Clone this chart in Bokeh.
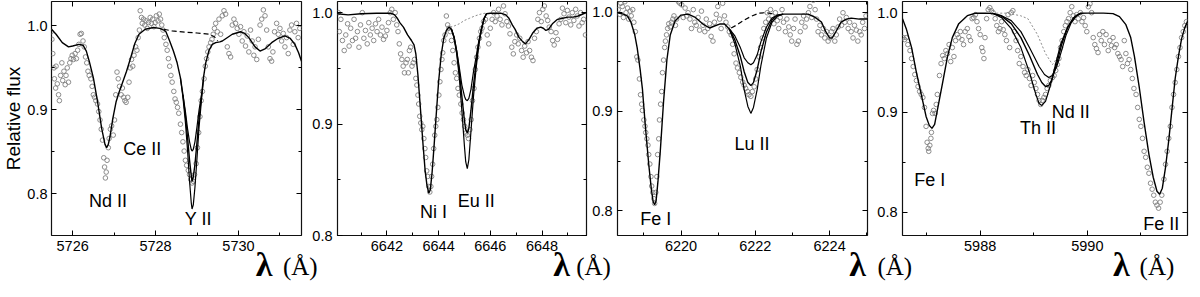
from bokeh.plotting import figure
from bokeh.layouts import row, column
from bokeh.models import (Range1d, LinearAxis, SingleIntervalTicker, PrintfTickFormatter,
                          CustomJSTickFormatter, ColumnDataSource, Div)
from bokeh.embed import file_html
from bokeh.resources import INLINE
from bokeh.core.properties import value

# ---------------- data: panel 1 (Y II 5728.9) ----------------
obs1 = [(5725.48,0.993),(5725.50,0.984),(5725.52,0.967),(5725.55,0.950),(5725.56,0.937),(5725.59,0.926),(5725.60,0.952),(5725.63,0.931),(5725.66,0.918),(5725.68,0.911),
(5725.71,0.941),(5725.74,0.956),(5725.76,0.935),(5725.79,0.946),(5725.82,0.930),(5725.84,0.941),(5725.87,0.950),(5725.90,0.933),(5725.93,0.956),(5725.96,0.961),
(5725.99,0.965),(5726.02,0.960),(5726.06,0.967),(5726.09,0.961),(5726.12,0.971),(5726.15,0.978),(5726.18,0.990),(5726.21,0.991),(5726.25,0.982),(5726.28,0.975),
(5726.31,0.963),(5726.34,0.956),(5726.37,0.946),(5726.40,0.941),(5726.44,0.937),(5726.47,0.928),(5726.50,0.918),(5726.53,0.915),(5726.56,0.911),(5726.60,0.907),
(5726.63,0.898),(5726.66,0.888),(5726.69,0.877),(5726.72,0.864),(5726.75,0.843),(5726.77,0.832),(5726.79,0.819),(5726.81,0.826),(5726.83,0.840),(5726.86,0.855),
(5726.88,0.866),(5726.91,0.877),(5726.94,0.881),(5726.98,0.870),(5727.01,0.888),(5727.04,0.918),(5727.07,0.945),(5727.10,0.937),(5727.13,0.928),(5727.17,0.918),
(5727.20,0.926),(5727.23,0.915),(5727.26,0.911),(5727.29,0.909),(5727.33,0.915),(5727.36,0.933),(5727.39,0.950),(5727.42,0.960),(5727.45,0.952),(5727.48,0.965),
(5727.52,0.975),(5727.55,0.971),(5727.58,0.986),(5727.61,0.995),
(5727.63,1.018),(5727.66,1.010),(5727.68,1.003),(5727.71,1.008),(5727.74,1.001),(5727.77,1.006),(5727.80,0.997),(5727.83,1.004),(5727.87,1.010),(5727.90,1.003),
(5727.93,1.008),(5727.96,0.999),(5727.99,1.004),(5728.02,1.012),(5728.06,1.006),(5728.09,1.014),(5728.12,1.008),(5728.15,1.001),(5728.18,0.995),
(5728.21,0.986),(5728.25,0.978),(5728.28,0.971),(5728.31,0.961),(5728.34,0.952),(5728.37,0.941),(5728.40,0.933),(5728.44,0.922),(5728.47,0.913),(5728.50,0.909),
(5728.53,0.903),(5728.56,0.896),(5728.60,0.883),(5728.63,0.873),(5728.66,0.862),(5728.69,0.851),(5728.72,0.840),(5728.75,0.834),(5728.79,0.828),(5728.82,0.823),
(5728.85,0.817),(5728.88,0.813),(5728.91,0.815),(5728.94,0.823),(5728.98,0.836),(5729.01,0.855),(5729.04,0.873),(5729.07,0.892),(5729.10,0.911),(5729.13,0.922),
(5729.17,0.937),(5729.20,0.952),(5729.23,0.961),(5729.26,0.969),(5729.29,0.975),(5729.33,0.980),(5729.36,0.984),(5729.39,0.990),(5729.42,0.997),(5729.45,1.003),
(5729.49,0.993),
(5729.53,1.008),(5729.57,0.990),(5729.61,1.012),(5729.65,1.018),(5729.69,1.014),(5729.73,0.975),(5729.77,0.967),(5729.81,0.963),(5729.85,1.001),(5729.89,1.008),
(5729.93,1.003),(5729.97,0.997),(5730.01,0.990),(5730.05,0.999),(5730.09,0.982),(5730.13,0.993),(5730.17,0.976),(5730.21,0.988),(5730.25,0.969),(5730.29,0.995),
(5730.33,0.982),(5730.37,0.965),(5730.40,0.975),(5730.44,0.960),(5730.48,0.984),(5730.52,1.001),(5730.56,1.008),(5730.60,1.019),(5730.64,1.012),(5730.68,0.995),
(5730.72,0.975),(5730.76,0.961),(5730.80,0.958),(5730.83,0.969),(5730.87,0.993),(5730.92,1.003),(5730.96,0.990),(5731.00,0.997),(5731.04,0.982),(5731.08,0.991),
(5731.12,0.975),(5731.16,0.986),(5731.20,0.967),(5731.24,0.995),(5731.28,1.001),(5731.32,0.978),(5731.36,0.993),(5731.40,1.003),(5731.44,0.986),(5731.48,0.997)]

model1 = [(5725.49,0.996),(5725.6,0.990),(5725.75,0.980),(5725.9,0.975),(5726.0,0.976),(5726.15,0.978),(5726.25,0.977),(5726.33,0.970),(5726.4,0.958),(5726.5,0.938),
(5726.6,0.910),(5726.7,0.878),(5726.78,0.859),(5726.82,0.855),(5726.86,0.859),(5726.9,0.868),(5726.97,0.890),(5727.05,0.910),(5727.12,0.921),(5727.2,0.932),
(5727.3,0.946),(5727.4,0.962),(5727.5,0.979),(5727.6,0.990),(5727.75,0.996),(5727.95,0.998),(5728.1,0.997),(5728.2,0.995),
(5728.25,0.993),(5728.34,0.982),(5728.43,0.970),(5728.52,0.956),(5728.6,0.938),(5728.66,0.918),(5728.72,0.893),(5728.77,0.868),(5728.82,0.840),(5728.86,0.822),
(5728.88,0.815),(5728.91,0.820),(5728.95,0.835),(5729.0,0.862),(5729.05,0.890),(5729.11,0.918),(5729.16,0.940),(5729.21,0.956),(5729.29,0.971),(5729.37,0.978),
(5729.45,0.980),(5729.55,0.981),(5729.61,0.982),(5729.7,0.985),(5729.85,0.990),(5730.05,0.993),(5730.15,0.991),(5730.25,0.986),(5730.4,0.975),(5730.52,0.970),
(5730.65,0.973),(5730.8,0.980),(5730.95,0.985),(5731.12,0.988),(5731.25,0.985),(5731.36,0.978),(5731.45,0.968),(5731.52,0.958)]
model1_weak = [(5728.66,0.918),(5728.72,0.898),(5728.77,0.878),(5728.82,0.862),(5728.86,0.853),(5728.88,0.851),(5728.91,0.853),(5728.95,0.862),(5729.0,0.880),(5729.05,0.900),(5729.11,0.918)]
model1_strong = [(5728.6,0.938),(5728.66,0.915),(5728.72,0.885),(5728.77,0.853),(5728.82,0.815),(5728.86,0.790),(5728.88,0.782),(5728.91,0.787),(5728.95,0.808),(5729.0,0.843),(5729.05,0.880),(5729.11,0.913),(5729.16,0.938)]
nolin1 = [(5728.2,0.996),(5728.4,0.994),(5728.7,0.9925),(5729.0,0.9915),(5729.3,0.990),(5729.42,0.987),(5729.5,0.982)]

# ---------------- data: panel 2 (Eu II 6645.1) ----------------
obs2 = [(6640.12,1.000),(6640.16,0.983),(6640.22,0.994),(6640.28,0.975),(6640.35,0.966),(6640.41,0.980),(6640.48,0.990),(6640.54,0.970),(6640.60,0.986),(6640.67,0.975),
(6640.73,0.994),(6640.79,0.977),(6640.86,0.983),(6640.92,0.969),(6640.98,0.989),(6641.05,1.000),(6641.11,0.977),(6641.17,0.984),(6641.24,0.972),(6641.30,0.991),
(6641.36,0.980),(6641.43,0.986),(6641.49,0.975),(6641.56,0.990),(6641.62,0.983),(6641.68,0.994),(6641.75,0.980),(6641.81,0.987),(6641.87,0.976),(6641.94,0.979),
(6642.00,0.984),(6642.06,0.991),(6642.13,1.000),(6642.19,1.003),(6642.25,0.994),(6642.32,1.000),(6642.38,0.989),(6642.43,0.983),(6642.48,0.972),(6642.53,0.963),
(6642.58,0.958),(6642.63,0.952),(6642.68,0.946),(6642.74,0.955),(6642.79,0.958),(6642.83,0.946),(6642.87,0.966),(6642.92,0.969),(6642.97,0.952),(6643.02,0.955),
(6643.07,0.958),(6643.12,0.941),(6643.16,0.935),(6643.20,0.926),(6643.23,0.918),(6643.27,0.907),(6643.31,0.901),(6643.35,0.895),(6643.39,0.898),(6643.43,0.887),
(6643.47,0.878),(6643.50,0.870),(6643.54,0.858),(6643.58,0.853),(6643.62,0.844),(6643.66,0.839),(6643.70,0.844),(6643.73,0.853),(6643.77,0.864),(6643.81,0.878),
(6643.85,0.890),(6643.89,0.898),(6643.93,0.904),(6643.97,0.915),(6644.01,0.926),(6644.05,0.938),(6644.09,0.949),(6644.13,0.958),(6644.16,0.964),(6644.20,0.975),
(6644.25,0.980),(6644.30,0.997),(6644.35,0.989),(6644.40,0.986),(6644.45,0.983),(6644.50,0.975),(6644.55,0.966),(6644.60,0.955),(6644.65,0.946),(6644.70,0.941),
(6644.75,0.932),(6644.80,0.926),(6644.86,0.918),(6644.91,0.910),(6644.96,0.904),(6645.01,0.898),(6645.06,0.892),(6645.11,0.890),(6645.16,0.887),(6645.21,0.895),
(6645.26,0.904),(6645.31,0.921),(6645.37,0.932),(6645.42,0.949),(6645.47,0.960),(6645.52,0.969),(6645.58,0.977),(6645.63,0.983),(6645.68,0.986),(6645.74,0.992),
(6645.81,0.994),(6645.88,0.980),(6645.94,0.972),(6646.00,0.986),(6646.07,0.994),(6646.13,1.000),(6646.19,0.992),(6646.26,0.997),(6646.32,1.003),(6646.38,0.994),
(6646.45,0.989),(6646.51,1.006),(6646.57,0.999),(6646.64,0.992),(6646.70,0.988),(6646.76,0.981),(6646.83,0.969),(6646.89,0.963),(6646.95,0.974),(6647.02,0.980),
(6647.08,0.972),(6647.14,0.977),(6647.21,0.966),(6647.27,0.960),(6647.33,0.970),(6647.40,0.964),(6647.46,0.974),(6647.52,0.966),(6647.59,0.960),(6647.65,0.957),
(6647.71,0.977),(6647.78,0.983),(6647.84,0.994),(6647.90,1.000),(6647.97,0.992),(6648.03,1.003),(6648.09,1.006),(6648.16,0.997),(6648.22,0.993),(6648.28,0.987),
(6648.35,0.983),(6648.41,0.975),(6648.47,0.971),(6648.54,0.982),(6648.60,0.976),(6648.66,0.990),(6648.73,0.994),(6648.79,1.004),(6648.85,0.999),(6648.92,0.991),
(6648.98,1.002),(6649.04,0.996),(6649.11,0.989),(6649.17,1.000),(6649.23,0.993),(6649.30,1.003),(6649.36,0.997),(6649.43,0.988),(6649.49,1.000),(6649.55,0.991),
(6649.61,0.994),(6649.68,0.980)]

model2 = [(6640.09,0.999),(6640.5,0.998),(6641.0,0.999),(6641.6,0.9995),(6642.15,0.9995),(6642.3,0.998),(6642.4,0.995),(6642.5,0.991),(6642.64,0.987),(6642.8,0.980),
(6642.95,0.975),(6643.05,0.971),(6643.12,0.963),(6643.2,0.944),(6643.3,0.913),(6643.4,0.881),(6643.48,0.858),(6643.55,0.845),(6643.62,0.838),(6643.68,0.841),
(6643.75,0.857),(6643.83,0.882),(6643.91,0.909),(6644.0,0.938),(6644.1,0.962),(6644.2,0.977),(6644.3,0.984),(6644.4,0.987),(6644.5,0.985),
(6644.6,0.978),(6644.7,0.965),(6644.8,0.947),(6644.9,0.925),(6645.0,0.903),(6645.05,0.895),(6645.11,0.892),(6645.17,0.896),(6645.25,0.912),(6645.35,0.935),
(6645.45,0.955),(6645.55,0.972),(6645.65,0.984),(6645.75,0.994),(6645.85,0.999),(6646.0,0.9995),(6646.4,0.9995),(6646.6,0.998),(6646.72,0.995),(6646.85,0.989),
(6646.96,0.985),(6647.1,0.978),(6647.25,0.974),(6647.36,0.972),(6647.5,0.976),(6647.65,0.982),(6647.8,0.986),(6647.95,0.987),(6648.05,0.986),(6648.15,0.984),
(6648.25,0.985),(6648.4,0.990),(6648.6,0.994),(6648.8,0.995),(6649.0,0.996),(6649.2,0.996),(6649.4,0.997),(6649.6,0.999),(6649.72,1.0)]
model2_weak = [(6644.5,0.985),(6644.6,0.978),(6644.7,0.966),(6644.8,0.951),(6644.9,0.935),(6645.0,0.925),(6645.05,0.922),(6645.11,0.921),(6645.17,0.923),(6645.25,0.931),
(6645.35,0.947),(6645.45,0.960),(6645.55,0.974),(6645.65,0.985),(6645.75,0.994),(6645.85,0.999)]
model2_strong = [(6644.5,0.985),(6644.6,0.977),(6644.7,0.963),(6644.8,0.942),(6644.9,0.912),(6645.0,0.880),(6645.05,0.866),(6645.11,0.860),(6645.17,0.868),(6645.25,0.893),
(6645.35,0.925),(6645.45,0.950),(6645.55,0.970),(6645.65,0.984),(6645.75,0.994),(6645.85,0.999)]
nolin2 = [(6644.45,0.987),(6644.6,0.988),(6644.8,0.990),(6645.0,0.993),(6645.2,0.995),(6645.4,0.997),(6645.6,0.9985),(6645.8,0.9995)]

# ---------------- data: panel 3 (Lu II 6221.9) ----------------
obs3 = [(6218.31,1.0025),(6218.35,0.9978),(6218.38,1.0089),(6218.42,1.0057),(6218.45,0.9946),(6218.49,1.0105),(6218.52,0.9994),(6218.56,1.0041),(6218.59,0.9930),(6218.63,1.0010),
(6218.66,0.9962),(6218.70,1.0025),(6218.73,0.9898),(6218.77,0.9803),(6218.81,0.9549),(6218.84,0.9517),(6218.88,0.9327),(6218.91,0.9168),(6218.94,0.9073),(6218.96,0.9010),
(6219.00,0.8914),(6219.03,0.8851),(6219.05,0.8787),(6219.08,0.8724),(6219.11,0.8660),(6219.13,0.8565),(6219.16,0.8470),(6219.19,0.8343),(6219.21,0.8248),(6219.24,0.8184),
(6219.27,0.8121),(6219.29,0.8073),(6219.32,0.8184),(6219.35,0.8343),(6219.37,0.8565),(6219.40,0.8724),(6219.42,0.8914),(6219.45,0.9073),(6219.48,0.9200),(6219.50,0.9390),
(6219.53,0.9517),(6219.56,0.9644),(6219.58,0.9708),(6219.61,0.9771),(6219.64,0.9835),(6219.67,0.9883),(6219.71,0.9851),(6219.74,0.9898),(6219.78,0.9930),(6219.81,0.9962),
(6219.85,0.9867),(6219.88,0.9930),(6219.93,1.0105),(6219.97,1.0089),(6220.02,1.0073),(6220.06,0.9946),(6220.11,1.0041),(6220.15,0.9962),(6220.19,0.9994),(6220.24,0.9930),
(6220.28,0.9835),(6220.33,1.0025),(6220.37,0.9898),(6220.41,0.9867),(6220.46,0.9946),(6220.50,0.9819),(6220.55,1.0010),(6220.59,0.9867),(6220.64,0.9803),(6220.68,0.9930),
(6220.72,0.9835),(6220.77,0.9883),(6220.81,0.9756),(6220.86,0.9708),(6220.90,0.9898),(6220.95,0.9978),(6220.99,1.0057),(6221.04,0.9930),(6221.08,0.9835),(6221.12,1.0089),
(6221.17,0.9962),(6221.21,0.9898),(6221.26,0.9851),(6221.30,0.9803),(6221.35,0.9771),(6221.39,0.9676),(6221.43,0.9580),(6221.48,0.9486),(6221.52,0.9438),(6221.57,0.9390),
(6221.61,0.9343),(6221.66,0.9295),(6221.70,0.9263),(6221.74,0.9232),(6221.79,0.9200),(6221.83,0.9168),(6221.88,0.9152),(6221.92,0.9200),(6221.97,0.9248),(6222.01,0.9327),
(6222.05,0.9422),(6222.10,0.9549),(6222.14,0.9644),(6222.19,0.9740),(6222.23,0.9835),(6222.28,0.9898),(6222.32,0.9994),(6222.36,0.9930),(6222.41,1.0025),(6222.45,0.9962),
(6222.50,0.9883),(6222.54,0.9994),(6222.59,0.9914),(6222.63,0.9835),(6222.67,0.9946),(6222.72,1.0025),(6222.76,0.9898),(6222.81,0.9803),(6222.85,0.9930),(6222.90,0.9851),
(6222.94,0.9771),(6222.98,0.9708),(6223.03,0.9835),(6223.07,0.9930),(6223.12,0.9676),(6223.16,0.9708),(6223.21,0.9803),(6223.25,0.9898),(6223.30,0.9962),(6223.34,0.9851),
(6223.38,0.9930),(6223.43,0.9994),(6223.47,1.0057),(6223.52,0.9946),(6223.56,1.0120),(6223.61,1.0025),(6223.65,0.9930),(6223.69,0.9803),(6223.74,0.9867),(6223.78,0.9771),
(6223.83,0.9835),(6223.87,0.9740),(6223.92,0.9803),(6223.96,0.9708),(6224.01,0.9740),(6224.05,0.9803),(6224.09,0.9835),(6224.14,0.9708),(6224.18,0.9771),(6224.23,0.9851),
(6224.27,0.9930),(6224.32,0.9867),(6224.36,0.9994),(6224.41,0.9898),(6224.45,0.9946),(6224.50,0.9835),(6224.54,0.9898),(6224.58,0.9803),(6224.63,0.9740),(6224.67,0.9867),
(6224.72,0.9819),(6224.76,0.9708),(6224.81,0.9803),(6224.85,0.9771),(6224.89,0.9898),(6224.94,0.9835),(6224.98,0.9962)]

model3 = [(6218.29,0.9994),(6218.45,0.998),(6218.56,0.996),(6218.65,0.990),(6218.75,0.978),(6218.82,0.964),(6218.9,0.942),(6218.96,0.923),(6219.04,0.885),(6219.13,0.847),
(6219.2,0.822),(6219.25,0.809),(6219.29,0.806),(6219.33,0.810),(6219.38,0.830),(6219.44,0.859),(6219.53,0.910),(6219.62,0.952),(6219.71,0.977),(6219.84,0.991),
(6220.0,0.997),(6220.19,0.998),(6220.37,0.995),(6220.59,0.988),(6220.77,0.984),(6220.9,0.986),(6221.04,0.988),(6221.17,0.988),(6221.3,0.983),
(6221.45,0.972),(6221.6,0.955),(6221.7,0.940),(6221.8,0.929),(6221.88,0.926),(6221.95,0.929),(6222.05,0.942),(6222.15,0.960),(6222.3,0.980),(6222.45,0.992),
(6222.6,0.997),(6222.75,0.998),(6222.9,0.998),(6223.2,0.998),(6223.42,0.998),(6223.6,0.995),(6223.78,0.990),(6223.9,0.980),(6224.0,0.974),(6224.07,0.974),
(6224.15,0.979),(6224.31,0.990),(6224.45,0.993),(6224.58,0.994),(6224.8,0.993),(6225.02,0.993)]
model3_weak = [(6221.3,0.983),(6221.45,0.976),(6221.6,0.964),(6221.7,0.954),(6221.8,0.949),(6221.88,0.947),(6221.95,0.949),(6222.05,0.957),(6222.15,0.970),(6222.3,0.985),
(6222.45,0.994),(6222.6,0.997),(6222.75,0.998)]
model3_strong = [(6221.3,0.983),(6221.45,0.968),(6221.6,0.945),(6221.7,0.922),(6221.8,0.905),(6221.88,0.898),(6221.95,0.904),(6222.05,0.922),(6222.15,0.946),(6222.3,0.974),
(6222.45,0.990),(6222.6,0.996),(6222.75,0.998)]
nolin3 = [(6221.35,0.984),(6221.5,0.987),(6221.7,0.992),(6221.9,0.996),(6222.1,0.999),(6222.3,0.9995),(6222.5,0.998)]

# ---------------- data: panel 4 (Th II 5989.0) ----------------
obs4 = [(5986.56,0.975),(5986.59,0.973),(5986.62,0.975),(5986.65,0.968),(5986.69,0.962),(5986.72,0.954),(5986.75,0.946),(5986.78,0.938),(5986.81,0.932),(5986.84,0.926),
(5986.87,0.921),(5986.90,0.918),(5986.93,0.915),(5986.96,0.905),(5986.99,0.886),(5987.01,0.870),(5987.03,0.864),(5987.04,0.861),(5987.06,0.867),(5987.08,0.874),
(5987.09,0.880),(5987.11,0.899),(5987.13,0.902),(5987.16,0.899),(5987.18,0.908),(5987.20,0.918),(5987.24,0.937),(5987.27,0.949),(5987.30,0.957),(5987.33,0.954),
(5987.36,0.962),(5987.39,0.959),(5987.42,0.968),(5987.45,0.951),(5987.48,0.965),(5987.51,0.956),(5987.54,0.972),(5987.57,0.978),(5987.60,0.975),(5987.63,0.981),
(5987.66,0.973),(5987.69,0.968),(5987.72,0.981),(5987.76,0.984),(5987.79,0.976),(5987.82,0.972),(5987.85,0.994),(5987.88,0.995),(5987.91,0.998),(5987.94,0.991),
(5987.97,0.984),(5988.00,0.978),(5988.03,0.965),(5988.05,0.961),(5988.07,0.954),(5988.09,0.975),(5988.12,0.994),(5988.15,1.003),(5988.18,1.005),(5988.21,1.002),
(5988.24,1.000),(5988.28,0.994),(5988.31,0.987),(5988.34,0.981),(5988.37,0.984),(5988.40,0.991),(5988.43,0.983),(5988.46,0.978),(5988.49,0.972),(5988.52,0.998),
(5988.55,0.965),(5988.58,1.000),(5988.61,1.002),(5988.64,0.981),(5988.67,0.972),(5988.70,0.962),(5988.73,0.949),(5988.76,0.956),(5988.80,0.946),(5988.83,0.940),
(5988.86,0.937),(5988.89,0.943),(5988.92,0.934),(5988.95,0.927),(5988.98,0.937),(5989.01,0.930),(5989.04,0.924),(5989.07,0.918),(5989.10,0.912),(5989.13,0.908),
(5989.16,0.912),(5989.19,0.915),(5989.22,0.918),(5989.25,0.924),(5989.28,0.927),(5989.31,0.932),(5989.35,0.935),(5989.38,0.937),(5989.41,0.942),(5989.44,0.948),
(5989.47,0.954),(5989.50,0.965),(5989.53,0.972),(5989.56,0.981),(5989.59,0.987),(5989.62,0.991),(5989.65,0.994),(5989.68,1.000),(5989.71,1.006),(5989.74,0.997),
(5989.77,0.991),(5989.80,0.998),(5989.83,0.994),(5989.87,1.000),(5989.90,0.991),(5989.93,0.995),(5989.96,0.987),(5989.99,0.981),(5990.02,1.006),(5990.05,1.009),
(5990.08,1.000),(5990.11,0.975),(5990.14,0.968),(5990.17,0.964),(5990.20,0.960),(5990.23,0.978),(5990.26,0.972),(5990.29,0.981),(5990.32,0.968),(5990.35,0.978),
(5990.39,0.962),(5990.42,0.972),(5990.45,0.967),(5990.48,0.975),(5990.51,0.965),(5990.54,0.968),(5990.57,0.959),(5990.60,0.956),(5990.63,0.953),(5990.66,0.946),
(5990.69,0.972),(5990.72,0.959),(5990.75,0.949),(5990.78,0.953),(5990.81,0.943),(5990.84,0.934),(5990.87,0.924),(5990.91,0.918),(5990.94,0.905),(5990.97,0.893),
(5991.00,0.886),(5991.03,0.874),(5991.06,0.861),(5991.09,0.855),(5991.12,0.845),(5991.15,0.839),(5991.18,0.829),(5991.21,0.823),(5991.24,0.817),(5991.27,0.810),
(5991.30,0.807),(5991.33,0.804),(5991.36,0.810),(5991.39,0.817),(5991.43,0.833),(5991.46,0.848),(5991.49,0.861),(5991.52,0.874),(5991.55,0.886),(5991.58,0.905),
(5991.61,0.918),(5991.64,0.930),(5991.67,0.943),(5991.70,0.956),(5991.73,0.965),(5991.76,0.975),(5991.79,0.981),(5991.82,0.987),(5991.85,0.991)]

model4 = [(5986.55,0.994),(5986.62,0.984),(5986.72,0.965),(5986.81,0.940),(5986.90,0.918),(5986.99,0.896),(5987.05,0.887),(5987.10,0.884),(5987.15,0.888),(5987.20,0.902),
(5987.30,0.930),(5987.39,0.956),(5987.48,0.975),(5987.60,0.989),(5987.76,0.997),(5987.91,0.9994),(5988.1,0.9995),(5988.25,0.999),
(5988.4,0.9965),(5988.58,0.989),(5988.76,0.975),(5988.92,0.957),(5989.07,0.938),(5989.15,0.930),(5989.22,0.926),(5989.28,0.927),(5989.34,0.933),(5989.43,0.949),
(5989.52,0.968),(5989.64,0.986),(5989.77,0.996),(5989.87,0.9994),(5990.0,0.9995),(5990.3,0.9995),(5990.48,0.999),(5990.6,0.996),(5990.72,0.988),(5990.81,0.975),
(5990.88,0.956),(5990.97,0.925),(5991.06,0.890),(5991.15,0.858),(5991.23,0.835),(5991.30,0.821),(5991.35,0.818),(5991.40,0.824),(5991.46,0.845),(5991.52,0.872),
(5991.58,0.903),(5991.64,0.934),(5991.70,0.956),(5991.76,0.974),(5991.82,0.985),(5991.87,0.991)]
model4_weak = [(5988.25,0.999),(5988.4,0.997),(5988.58,0.992),(5988.76,0.981),(5988.92,0.965),(5989.1,0.946),(5989.2,0.938),(5989.28,0.935),(5989.35,0.937),(5989.43,0.946),
(5989.52,0.962),(5989.6,0.977),(5989.7,0.990),(5989.8,0.997),(5989.9,0.9994)]
model4_strong = [(5988.25,0.999),(5988.4,0.995),(5988.58,0.984),(5988.76,0.965),(5988.92,0.940),(5989.04,0.918),(5989.1,0.909),(5989.15,0.907),(5989.22,0.911),(5989.31,0.927),
(5989.41,0.949),(5989.5,0.968),(5989.62,0.984),(5989.74,0.995),(5989.87,0.9994)]
nolin4 = [(5988.3,0.9995),(5988.5,0.9995),(5988.75,0.997),(5988.89,0.994),(5989.07,0.978),(5989.22,0.959),(5989.35,0.948),(5989.44,0.955),(5989.53,0.972),(5989.65,0.987),
(5989.77,0.997),(5989.9,1.0)]

# line identifications
ids1 = [("Nd II",5726.85,0.791),("Ce II",5727.68,0.853),("Y II",5729.03,0.770)]
ids2 = [("Ni I",6643.80,0.821),("Eu II",6645.46,0.831)]
ids3 = [("Lu II",6221.91,0.867),("Fe I",6219.32,0.7914)]
ids4 = [("Nd II",5989.69,0.9002),("Th II",5989.08,0.884),("Fe I",5987.06,0.8325),("Fe II",5991.38,0.7877)]

x_ranges = [(5725.49,5731.52),(6640.09,6649.72),(6218.29,6225.02),(5986.55,5991.87)]
y_ranges = [(0.7505,1.029),(0.800,1.010),(0.775,1.0107),(0.7766,1.0112)]

# ---------------- layout (page pixels) ----------------
W = 1184
H = 281
FRAME_TOP = 1
FRAME_H = 234
frames = [  # (frame width, left border, right border)
    (250, 46, 3),
    (249, 33, 3),
    (250, 28, 2),
    (285, 33, 2),
]
FONT = "Liberation Sans"

def xy(pts):
    return [p[0] for p in pts], [p[1] for p in pts]

panels = [
    (obs1, model1, [model1_weak, model1_strong], nolin1, "dash", ids1),
    (obs2, model2, [model2_weak, model2_strong], nolin2, "dot", ids2),
    (obs3, model3, [model3_weak, model3_strong], nolin3, "dash", ids3),
    (obs4, model4, [model4_weak, model4_strong], nolin4, "dot", ids4),
]

def style_axis(ax, interval, fmt, show_labels, standoff=5):
    ax.ticker = SingleIntervalTicker(interval=interval, num_minor_ticks=2)
    ax.major_tick_in = 5
    ax.major_tick_out = 0
    ax.minor_tick_in = 3
    ax.minor_tick_out = 0
    ax.major_tick_line_color = "black"
    ax.minor_tick_line_color = "black"
    ax.axis_line_color = None
    if show_labels:
        ax.formatter = PrintfTickFormatter(format=fmt)
        ax.major_label_text_font = FONT
        ax.major_label_text_font_size = "14.5px"
        ax.major_label_text_color = "black"
        ax.major_label_standoff = standoff
    else:
        ax.formatter = CustomJSTickFormatter(code="return ''")
        ax.major_label_text_font_size = "1px"
        ax.major_label_text_color = None
        ax.major_label_standoff = 0

figs = []
for i, (obs, model, variants, nolin, nstyle, ids) in enumerate(panels):
    fw, bl, br = frames[i]
    p = figure(frame_width=fw, frame_height=FRAME_H, title=None,
               x_range=Range1d(*x_ranges[i]), y_range=Range1d(*y_ranges[i]),
               min_border_left=bl, min_border_right=br, min_border_top=FRAME_TOP,
               min_border_bottom=H - FRAME_TOP - FRAME_H,
               output_backend="svg", toolbar_location=None)
    p.grid.visible = False
    p.outline_line_color = "#111111"
    p.outline_line_width = 1.2
    p.background_fill_color = "white"
    p.border_fill_color = "white"
    style_axis(p.xaxis[0], 2, "%d", True)
    style_axis(p.yaxis[0], 0.1, "%.1f", True, standoff=(4 if i == 0 else 5))
    top = LinearAxis()
    style_axis(top, 2, "%d", False)
    p.add_layout(top, "above")
    right = LinearAxis()
    style_axis(right, 0.1, "%.1f", False)
    p.add_layout(right, "right")
    if i == 0:
        ya = p.yaxis[0]
        ya.axis_label = "Relative flux"
        ya.axis_label_text_font = FONT
        ya.axis_label_text_font_size = "19px"
        ya.axis_label_text_font_style = "normal"
        ya.axis_label_text_color = "black"
        ya.axis_label_standoff = 0

    ox, oy = xy(obs)
    p.scatter(ox, oy, marker="circle", size=4.6, fill_color=None,
              line_color="#808080", line_width=0.9)
    nx, ny = xy(nolin)
    if nstyle == "dash":
        p.line(nx, ny, line_color="black", line_width=1.2, line_dash="5 3")
    else:
        p.line(nx, ny, line_color="#8c8c8c", line_width=1.0, line_dash="2 2")
    for v in variants:
        vx, vy = xy(v)
        p.line(vx, vy, line_color="black", line_width=1.2)
    mx, my = xy(model)
    p.line(mx, my, line_color="black", line_width=1.4)

    src = ColumnDataSource(dict(t=[d[0] for d in ids], x=[d[1] for d in ids], y=[d[2] for d in ids]))
    p.text(x="x", y="y", text="t", source=src, text_font=value(FONT), text_font_size="18px",
           text_color="black", text_align="center", text_baseline="middle")
    figs.append(p)

# wavelength axis titles: an overlay strip pulled up over the bottom border of the panels
DH = 36
DIV_TOP = H - DH
lam_x = [255.8, 553.2, 849.2, 1113.0]
ang_x = [282.9, 576.2, 877.4, 1139.6]
LAM_PX, ANG_PX = 34, 25
LAM_BASE, ANG_BASE = 276.7, 274.7
spans = []
for x in lam_x:
    top = LAM_BASE - ((LAM_PX - 1.107 * LAM_PX) / 2 + 0.891 * LAM_PX) - DIV_TOP
    spans.append(f'<span style="position:absolute;left:{x:.1f}px;top:{top:.1f}px;'
                 f'font-family:\'Liberation Serif\';font-weight:bold;font-size:{LAM_PX}px;'
                 f'line-height:{LAM_PX}px;color:#000;white-space:nowrap;">λ</span>')
for x in ang_x:
    top = ANG_BASE - ((ANG_PX - 1.107 * ANG_PX) / 2 + 0.891 * ANG_PX) - DIV_TOP
    spans.append(f'<span style="position:absolute;left:{x:.1f}px;top:{top:.1f}px;'
                 f'font-family:\'Liberation Serif\';font-weight:normal;font-size:{ANG_PX}px;'
                 f'line-height:{ANG_PX}px;color:#000;white-space:nowrap;">(Å)</span>')
html = (f'<div style="position:relative;z-index:100;width:{W}px;height:{DH}px;'
        f'overflow:visible;pointer-events:none;">' + "".join(spans) + '</div>')
titles = Div(text=html, width=W, height=DH, margin=(-DH, 0, 0, 0))

layout = column(row(*figs, spacing=0), titles, spacing=0)
open("out.html", "w").write(file_html(layout, INLINE))
